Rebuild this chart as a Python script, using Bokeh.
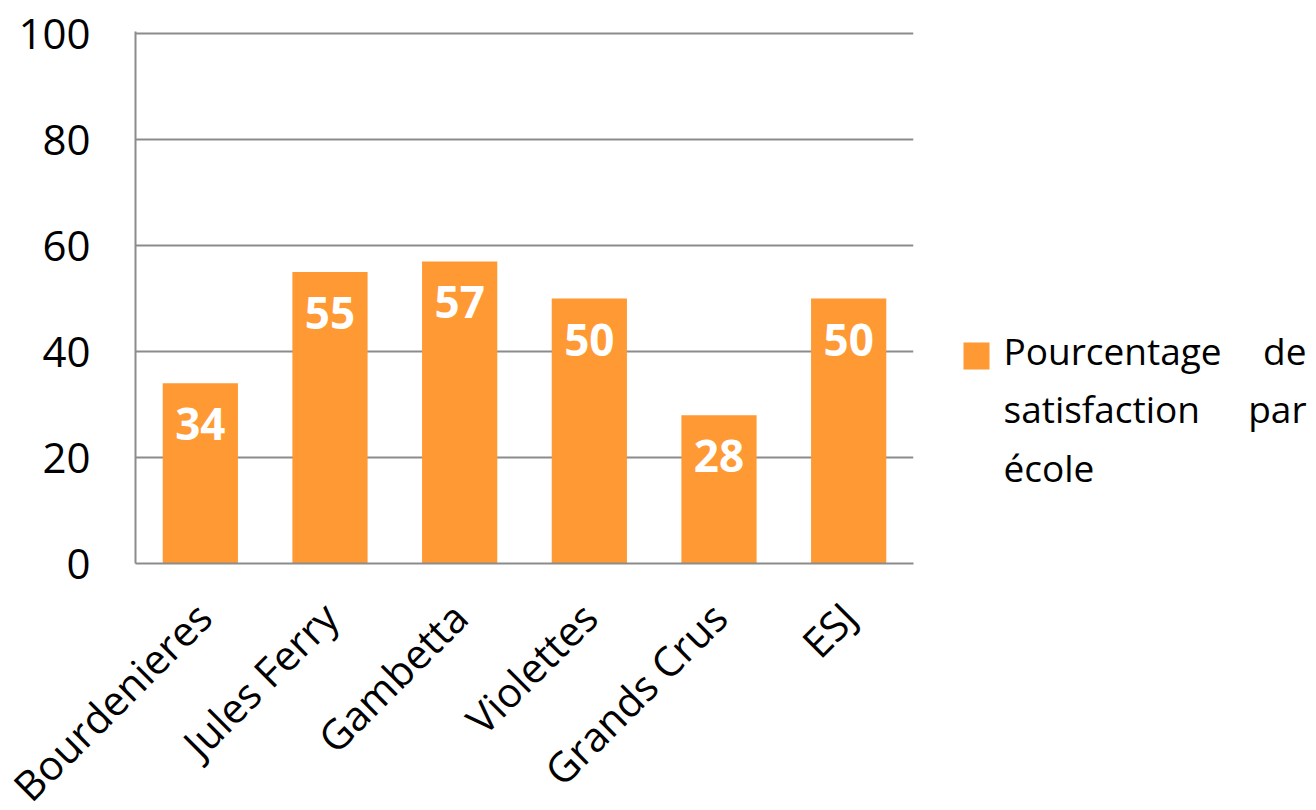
from math import pi
from bokeh.plotting import figure
from bokeh.layouts import row
from bokeh.models import ColumnDataSource, FactorRange, Range1d, FixedTicker
from bokeh.core.properties import value
from bokeh.embed import file_html
from bokeh.resources import INLINE

schools = ["Bourdenieres", "Jules Ferry", "Gambetta", "Violettes", "Grands Crus", "ESJ"]
satisfaction = [34, 55, 57, 50, 28, 50]
y_ticks = [0, 20, 40, 60, 80, 100]
legend_left_words = ["Pourcentage", "satisfaction", "école"]
legend_right_words = ["de", "par", ""]

ORANGE = "#FF9933"
GRID = "#8C8C8C"
FONT = "Open Sans"

MAIN_W = 935
TOP = 31
FRAME_H = 532
BOTTOM = 280
TOTAL_H = TOP + FRAME_H + BOTTOM

src = ColumnDataSource(dict(school=schools, value=satisfaction,
                            label=[str(v) for v in satisfaction]))

p = figure(x_range=FactorRange(*schools, range_padding=0), y_range=Range1d(0, 100.4),
           frame_width=778, frame_height=FRAME_H,
           min_border_left=135, min_border_right=MAIN_W - 135 - 778, min_border_top=TOP,
           min_border_bottom=BOTTOM,
           output_backend="svg", toolbar_location=None, outline_line_color=None,
           background_fill_color="white", border_fill_color="white")

p.vbar(x="school", top="value", width=0.58, source=src, fill_color=ORANGE, line_color=None)
p.text(x="school", y="value", text="label", source=src, y_offset=41,
       text_align="center", text_baseline="alphabetic", text_color="white",
       text_font=value(FONT), text_font_style="bold", text_font_size="44px")

# axes
p.yaxis.ticker = FixedTicker(ticks=y_ticks)
p.yaxis.major_tick_line_color = None
p.yaxis.minor_tick_line_color = None
p.yaxis.major_tick_out = 0
p.yaxis.major_tick_in = 0
p.yaxis.axis_line_color = GRID
p.yaxis.axis_line_width = 2
p.yaxis.major_label_standoff = 45
p.yaxis.major_label_text_font = FONT
p.yaxis.major_label_text_font_size = "42px"
p.yaxis.major_label_text_color = "black"

p.xaxis.major_tick_line_color = None
p.xaxis.major_tick_out = 0
p.xaxis.major_tick_in = 0
p.xaxis.axis_line_color = GRID
p.xaxis.axis_line_width = 2
p.xaxis.major_label_orientation = pi / 4
p.xaxis.major_label_standoff = 46
p.xaxis.major_label_text_font = FONT
p.xaxis.major_label_text_font_size = "41px"
p.xaxis.major_label_text_color = "black"

p.xgrid.grid_line_color = None
p.ygrid.grid_line_color = GRID
p.ygrid.grid_line_width = 2

# legend panel (pixel coordinates, y measured from top), same height as the chart
LEG_W = 375
leg = figure(frame_width=LEG_W, frame_height=TOTAL_H, title=None,
             x_range=Range1d(0, LEG_W), y_range=Range1d(TOTAL_H, 0),
             x_axis_type=None, y_axis_type=None,
             min_border_left=0, min_border_right=0, min_border_top=0, min_border_bottom=0,
             output_backend="svg", toolbar_location=None, outline_line_color=None,
             background_fill_color="white", border_fill_color="white")
leg.xgrid.grid_line_color = None
leg.ygrid.grid_line_color = None

x0 = 963 - MAIN_W
leg.quad(left=[x0], right=[x0 + 26], top=[311], bottom=[338], fill_color=ORANGE, line_color=None)
baselines = [319, 377, 436]
leg.text(x=[1003 - MAIN_W] * 3, y=baselines, text=legend_left_words, text_align="left",
         text_baseline="alphabetic", text_font=value(FONT), text_font_size="37px",
         text_color="black")
leg.text(x=[1306 - MAIN_W] * 3, y=baselines, text=legend_right_words, text_align="right",
         text_baseline="alphabetic", text_font=value(FONT), text_font_size="37px",
         text_color="black")

layout = row(p, leg, spacing=0)
open("out.html", "w").write(file_html(layout, INLINE))
